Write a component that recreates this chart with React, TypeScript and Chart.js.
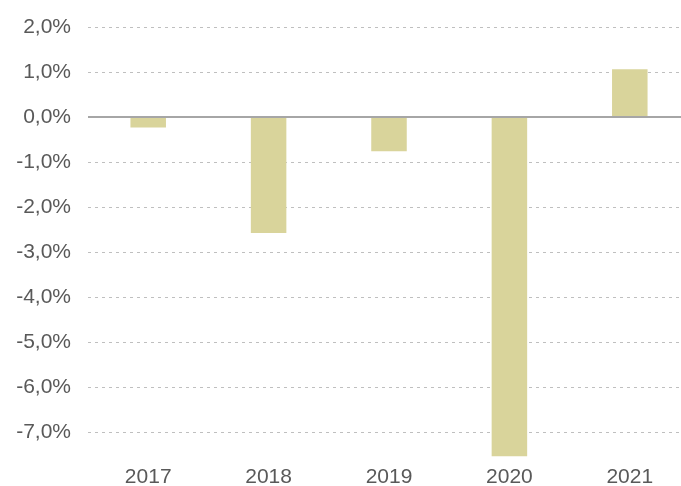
import React, { useEffect, useRef } from "react";
import { Chart, registerables } from "chart.js";

Chart.register(...registerables);

const years = ["2017", "2018", "2019", "2020", "2021"];
const changes = [-0.23, -2.57, -0.76, -7.53, 1.06];
const yMin = -7.53;
const yMax = 2.0;

const FONT = "'Liberation Sans', Arial, sans-serif";

export default function App() {
  const ref = useRef<HTMLCanvasElement>(null);
  useEffect(() => {
    const canvas = ref.current;
    if (!canvas) return;
    const zeroLine = {
      id: "zeroLine",
      afterDatasetsDraw(chart: any) {
        const y = chart.scales.y.getPixelForValue(0);
        const { left, right } = chart.chartArea;
        const ctx = chart.ctx;
        ctx.save();
        ctx.strokeStyle = "#a6a6a6";
        ctx.lineWidth = 2;
        ctx.beginPath();
        ctx.moveTo(left, y);
        ctx.lineTo(right, y);
        ctx.stroke();
        ctx.restore();
      },
    };
    const chart = new Chart(canvas, {
      type: "bar",
      data: {
        labels: years,
        datasets: [
          {
            data: changes,
            backgroundColor: "#d9d49b",
            borderWidth: 0,
            categoryPercentage: 1,
            barPercentage: 0.295,
          },
        ],
      },
      options: {
        responsive: false,
        animation: false,
        devicePixelRatio: 1,
        layout: { padding: { top: 27, bottom: -11, left: 0, right: 0 } },
        plugins: { legend: { display: false }, tooltip: { enabled: false } },
        scales: {
          x: {
            grid: { display: false },
            border: { display: false },
            ticks: {
              color: "#595959",
              font: { family: FONT, size: 21 },
              padding: 0,
              maxRotation: 0,
            },
          },
          y: {
            min: yMin,
            max: yMax,
            afterBuildTicks: (s: any) => {
              s.ticks = s.ticks.filter(
                (t: any) => Math.abs(t.value - Math.round(t.value)) < 1e-6
              );
            },
            afterFit: (s: any) => {
              s.width = 88;
              s.paddingTop = 0;
            },
            grid: {
              drawTicks: false,
              color: (c: any) =>
                c.tick && c.tick.value === 0 ? "rgba(0,0,0,0)" : "#bfbfbf",
              lineWidth: 1,
            },
            border: { display: false, dash: [3, 4] },
            ticks: {
              stepSize: 1,
              color: "#595959",
              font: { family: FONT, size: 21 },
              padding: 17,
              callback: (v: any) => Number(v).toFixed(1).replace(".", ",") + "%",
            },
          },
        },
      },
      plugins: [zeroLine],
    });
    return () => chart.destroy();
  }, []);
  return (
    <div
      style={{
        position: "absolute",
        left: 0,
        top: 0,
        width: 681,
        height: 486,
        overflow: "hidden",
        background: "#fff",
      }}
    >
      <canvas ref={ref} width={690} height={486} style={{ display: "block" }} />
    </div>
  );
}
